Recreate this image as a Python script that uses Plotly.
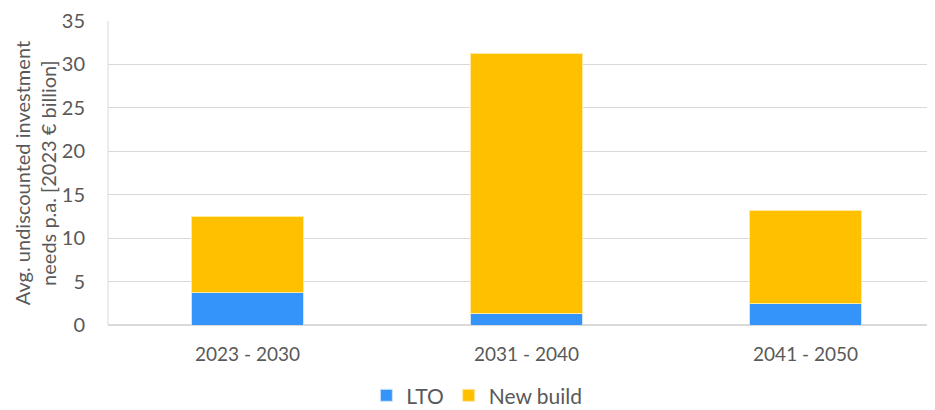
import plotly.graph_objects as go

periods = ["2023 - 2030", "2031 - 2040", "2041 - 2050"]
lto = [3.7, 1.3, 2.45]
new_build = [8.8, 30.0, 10.75]

FONT = "Lato, Open Sans, sans-serif"
GREY = "#595959"

fig = go.Figure()
fig.add_trace(go.Bar(x=periods, y=lto, name="LTO", marker=dict(color="#3594F9", line=dict(color="#cfe3fb", width=1))))
fig.add_trace(go.Bar(x=periods, y=new_build, name="New build", marker=dict(color="#FFC000", line=dict(color="#ffe8a0", width=1))))

# page body has an 8px margin, so the figure is sized/offset to compensate
fig.update_layout(
    barmode="stack",
    bargap=0.6,
    width=927, height=402,
    margin=dict(l=100, r=0, t=13, b=85, autoexpand=False),
    plot_bgcolor="white", paper_bgcolor="white",
    font=dict(family=FONT, size=19, color=GREY),
    legend=dict(orientation="h", x=0.446, xanchor="center", y=-0.165, yanchor="top",
                traceorder="normal", font=dict(size=21, color=GREY), itemwidth=30),
    xaxis=dict(range=[-0.5, 2.464], showline=False, ticks="outside", ticklen=12, tickcolor="white",
               tickfont=dict(size=19, color=GREY), automargin=False),
    yaxis=dict(range=[0, 35], dtick=5, showgrid=True, gridcolor="#d9d9d9", gridwidth=1,
               zeroline=True, zerolinecolor="#d9d9d9", tickfont=dict(size=20, color=GREY),
               ticklen=18, ticks="outside", tickcolor="white", automargin=False,
               ticklabeloverflow="allow"),
)
fig.add_annotation(text="Avg. undiscounted investment<br>needs p.a. [2023 € billion]",
                   xref="paper", yref="paper", x=-0.088, y=0.5, xanchor="center", yanchor="middle",
                   textangle=-90, showarrow=False, font=dict(size=20, color=GREY))
fig.add_shape(type="line", xref="paper", yref="paper", x0=0, x1=0, y0=0, y1=1,
              line=dict(color="#d9d9d9", width=1))

fig.write_html("out.html")
